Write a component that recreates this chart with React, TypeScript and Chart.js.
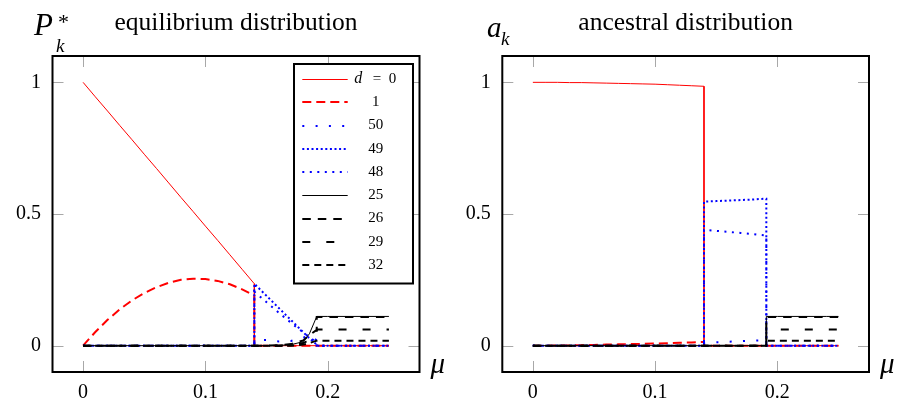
import React, { useEffect, useRef } from "react";
import { Chart, registerables } from "chart.js";

Chart.register(...registerables);

// Mutation rate grid; repeated entries carry the two vertical jumps.
const MU = [0, 0.01, 0.02, 0.03, 0.04, 0.05, 0.06, 0.07, 0.08, 0.09, 0.1, 0.11, 0.12, 0.13, 0.14, 0.14, 0.15, 0.16, 0.17, 0.18, 0.185, 0.191, 0.191, 0.2, 0.21, 0.22, 0.23, 0.24, 0.25];

const DEPTHS = ["0", "1", "50", "49", "48", "25", "26", "29", "32"];
const X_TICKS = [0, 0.1, 0.2];
const Y_TICKS = [0, 0.5, 1];

// Equilibrium distribution P*_k
const EQ_D0 = [1, 0.945, 0.891, 0.836, 0.782, 0.727, 0.673, 0.618, 0.563, 0.509, 0.454, 0.4, 0.345, 0.29, 0.235, 0, 0, 0, 0, 0, 0, 0, 0, 0, 0, 0, 0, 0, 0];
const EQ_D1 = [0, 0.052, 0.098, 0.138, 0.172, 0.2, 0.222, 0.239, 0.25, 0.254, 0.253, 0.246, 0.233, 0.214, 0.19, 0, 0, 0, 0, 0, 0, 0, 0, 0, 0, 0, 0, 0, 0];
const EQ_D50 = [0, 0, 0, 0, 0, 0, 0, 0, 0, 0, 0, 0, 0, 0, 0, 0.02, 0.022, 0.016, 0.018, 0.03, 0.04, 0.02, 0, 0, 0, 0, 0, 0, 0];
const EQ_D49 = [0, 0, 0, 0, 0, 0, 0, 0, 0, 0, 0, 0, 0, 0, 0, 0.235, 0.189, 0.143, 0.097, 0.051, 0.028, 0.004, 0, 0, 0, 0, 0, 0, 0];
const EQ_D48 = [0, 0, 0, 0, 0, 0, 0, 0, 0, 0, 0, 0, 0, 0, 0, 0.205, 0.165, 0.125, 0.087, 0.05, 0.032, 0.012, 0, 0, 0, 0, 0, 0, 0];
const EQ_D25 = [0, 0, 0, 0, 0, 0, 0, 0, 0, 0, 0, 0, 0, 0, 0, 0, 0, 0.001, 0.004, 0.015, 0.045, 0.111, 0.111, 0.111, 0.111, 0.111, 0.111, 0.111, 0.111];
const EQ_D26 = [0, 0, 0, 0, 0, 0, 0, 0, 0, 0, 0, 0, 0, 0, 0, 0, 0, 0.002, 0.006, 0.02, 0.04, 0.06, 0.109, 0.109, 0.109, 0.109, 0.109, 0.109, 0.109];
const EQ_D29 = [0, 0, 0, 0, 0, 0, 0, 0, 0, 0, 0, 0, 0, 0, 0, 0, 0, 0, 0.003, 0.01, 0.022, 0.035, 0.061, 0.061, 0.061, 0.061, 0.061, 0.061, 0.061];
const EQ_D32 = [0, 0, 0, 0, 0, 0, 0, 0, 0, 0, 0, 0, 0, 0, 0, 0, 0, 0, 0, 0.004, 0.01, 0.019, 0.019, 0.019, 0.019, 0.019, 0.019, 0.019, 0.019];

// Ancestral distribution a_k
const ANC_D0 = [1, 1, 1, 0.999, 0.999, 0.998, 0.997, 0.996, 0.995, 0.994, 0.993, 0.991, 0.989, 0.987, 0.985, 0, 0, 0, 0, 0, 0, 0, 0, 0, 0, 0, 0, 0, 0];
const ANC_D1 = [0, 0, 0.001, 0.001, 0.002, 0.003, 0.004, 0.005, 0.006, 0.007, 0.008, 0.009, 0.011, 0.012, 0.014, 0, 0, 0, 0, 0, 0, 0, 0, 0, 0, 0, 0, 0, 0];
const ANC_D50 = [0, 0, 0, 0, 0, 0, 0, 0, 0, 0, 0, 0, 0, 0, 0, 0.01, 0.013, 0.015, 0.017, 0.019, 0.02, 0.021, 0, 0, 0, 0, 0, 0, 0];
const ANC_D49 = [0, 0, 0, 0, 0, 0, 0, 0, 0, 0, 0, 0, 0, 0, 0, 0.547, 0.549, 0.551, 0.553, 0.555, 0.557, 0.558, 0, 0, 0, 0, 0, 0, 0];
const ANC_D48 = [0, 0, 0, 0, 0, 0, 0, 0, 0, 0, 0, 0, 0, 0, 0, 0.44, 0.436, 0.432, 0.428, 0.424, 0.421, 0.418, 0, 0, 0, 0, 0, 0, 0];
const ANC_D25 = [0, 0, 0, 0, 0, 0, 0, 0, 0, 0, 0, 0, 0, 0, 0, 0, 0, 0, 0, 0, 0, 0, 0.111, 0.111, 0.111, 0.111, 0.111, 0.111, 0.111];
const ANC_D26 = [0, 0, 0, 0, 0, 0, 0, 0, 0, 0, 0, 0, 0, 0, 0, 0, 0, 0, 0, 0, 0, 0, 0.109, 0.109, 0.109, 0.109, 0.109, 0.109, 0.109];
const ANC_D29 = [0, 0, 0, 0, 0, 0, 0, 0, 0, 0, 0, 0, 0, 0, 0, 0, 0, 0, 0, 0, 0, 0, 0.061, 0.061, 0.061, 0.061, 0.061, 0.061, 0.061];
const ANC_D32 = [0, 0, 0, 0, 0, 0, 0, 0, 0, 0, 0, 0, 0, 0, 0, 0, 0, 0, 0, 0, 0, 0, 0.019, 0.019, 0.019, 0.019, 0.019, 0.019, 0.019];

const EQ_SERIES = [EQ_D0, EQ_D1, EQ_D50, EQ_D49, EQ_D48, EQ_D25, EQ_D26, EQ_D29, EQ_D32];
const ANC_SERIES = [ANC_D0, ANC_D1, ANC_D50, ANC_D49, ANC_D48, ANC_D25, ANC_D26, ANC_D29, ANC_D32];

const RED = "#ff0000";
const BLUE = "#0000ff";
const BLACK = "#000000";

const STYLES = [
  { color: RED, width: 1, dash: [] as number[] },
  { color: RED, width: 2, dash: [9, 5] },
  { color: BLUE, width: 2, dash: [2, 11.3] },
  { color: BLUE, width: 2, dash: [2, 2.6] },
  { color: BLUE, width: 2, dash: [2, 5.5] },
  { color: BLACK, width: 1, dash: [] as number[] },
  { color: BLACK, width: 2, dash: [8.5, 7] },
  { color: BLACK, width: 2, dash: [8, 16] },
  { color: BLACK, width: 2, dash: [7, 5] },
];

const SERIF = "'Liberation Serif', 'Times New Roman', serif";
const TICK_LEN = 11;

type Panel = {
  title: string;
  ylab: "P" | "a";
  legend: boolean;
  width: number;
  padRight: number;
  axisWidth: number;
};

function decorPlugin(p: Panel) {
  return {
    id: "decor",
    beforeDatasetsDraw(chart: any) {
      const { ctx, chartArea: a } = chart;
      const xs = chart.scales.x;
      const ys = chart.scales.y;
      ctx.save();
      ctx.strokeStyle = "#a8a8a8";
      ctx.lineWidth = 1;
      ctx.beginPath();
      xs.ticks.forEach((t: any) => {
        const px = Math.round(xs.getPixelForValue(t.value)) + 0.5;
        ctx.moveTo(px, a.top);
        ctx.lineTo(px, a.top + TICK_LEN);
        ctx.moveTo(px, a.bottom);
        ctx.lineTo(px, a.bottom - TICK_LEN);
      });
      ys.ticks.forEach((t: any) => {
        const py = Math.round(ys.getPixelForValue(t.value)) + 0.5;
        ctx.moveTo(a.left, py);
        ctx.lineTo(a.left + TICK_LEN, py);
        ctx.moveTo(a.right, py);
        ctx.lineTo(a.right - TICK_LEN, py);
      });
      ctx.stroke();
      ctx.restore();
    },
    afterDatasetsDraw(chart: any) {
      const { ctx, chartArea: a } = chart;
      ctx.save();
      ctx.strokeStyle = "#000";
      ctx.lineWidth = 2;
      ctx.setLineDash([]);
      ctx.strokeRect(a.left, a.top, a.right - a.left, a.bottom - a.top);

      if (p.legend) {
        const bw = 119;
        const bh = 219.5;
        const bx = a.right - 6.5 - bw;
        const by = a.top + 8;
        ctx.fillStyle = "#fff";
        ctx.fillRect(bx, by, bw, bh);
        ctx.strokeRect(bx, by, bw, bh);
        chart.data.datasets.forEach((ds: any, i: number) => {
          const ly = by + 15 + i * 23.25;
          const sy = Math.round(ly) + (ds.borderWidth === 1 ? 0.5 : 0);
          ctx.save();
          ctx.strokeStyle = ds.borderColor;
          ctx.lineWidth = ds.borderWidth;
          ctx.setLineDash(ds.borderDash || []);
          ctx.beginPath();
          ctx.moveTo(bx + 8.3, sy);
          ctx.lineTo(bx + 53.7, sy);
          ctx.stroke();
          ctx.restore();
          ctx.fillStyle = "#000";
          ctx.textBaseline = "middle";
          if (i === 0) {
            ctx.font = `italic 16px ${SERIF}`;
            ctx.textAlign = "left";
            ctx.fillText("d", bx + 60.3, ly);
            ctx.font = `15px ${SERIF}`;
            ctx.textAlign = "center";
            ctx.fillText("=", bx + 83, ly);
            ctx.fillText(ds.label, bx + 98.5, ly);
          } else {
            ctx.font = `15px ${SERIF}`;
            ctx.textAlign = "center";
            ctx.fillText(ds.label, bx + 81.7, ly);
          }
        });
      }
      ctx.restore();
    },
    afterDraw(chart: any) {
      const { ctx, chartArea: a } = chart;
      ctx.save();
      ctx.fillStyle = "#000";
      ctx.textBaseline = "alphabetic";
      ctx.textAlign = "center";
      ctx.font = `25.5px ${SERIF}`;
      ctx.fillText(p.title, (a.left + a.right) / 2, 30);

      ctx.textAlign = "left";
      if (p.ylab === "P") {
        ctx.font = `italic 31px ${SERIF}`;
        ctx.fillText("P", 34, 35);
        ctx.font = `22px ${SERIF}`;
        ctx.fillText("*", 58, 29);
        ctx.font = `italic 19px ${SERIF}`;
        ctx.fillText("k", 56, 52);
      } else {
        ctx.font = `italic 29px ${SERIF}`;
        ctx.fillText("a", 37, 37);
        ctx.font = `italic 19px ${SERIF}`;
        ctx.fillText("k", 51, 45);
      }
      ctx.font = `italic 29px ${SERIF}`;
      ctx.fillText("\u03bc", a.right + 11, 373);
      ctx.restore();
    },
  };
}

function PlotPanel({ panel, series }: { panel: Panel; series: number[][] }) {
  const ref = useRef<HTMLCanvasElement | null>(null);

  useEffect(() => {
    if (!ref.current) return;
    const datasets = series.map((vals, i) => ({
      label: DEPTHS[i],
      data: MU.map((m, j) => ({ x: m, y: vals[j] })),
      borderColor: STYLES[i].color,
      backgroundColor: STYLES[i].color,
      borderWidth: STYLES[i].width,
      borderDash: STYLES[i].dash,
      borderCapStyle: "butt" as const,
      borderJoinStyle: "miter" as const,
      pointRadius: 0,
      showLine: true,
      fill: false,
      tension: 0,
      order: series.length - i,
    }));

    const chart = new Chart(ref.current, {
      type: "scatter",
      data: { datasets },
      options: {
        animation: false,
        responsive: false,
        devicePixelRatio: 1,
        layout: { padding: { top: 56, right: panel.padRight, bottom: 0, left: 0 } },
        plugins: { legend: { display: false }, tooltip: { enabled: false }, title: { display: false } },
        scales: {
          x: {
            type: "linear",
            min: -0.025,
            max: 0.275,
            afterBuildTicks: (s: any) => {
              s.ticks = X_TICKS.map((v) => ({ value: v }));
            },
            afterFit: (s: any) => {
              s.height = 28;
            },
            ticks: {
              autoSkip: false,
              maxRotation: 0,
              padding: 9,
              color: "#000",
              font: { family: SERIF, size: 20 },
              callback: (v: any) => String(v),
            },
            grid: { display: false, drawTicks: false },
            border: { display: false },
          },
          y: {
            type: "linear",
            min: -0.1,
            max: 1.1,
            afterBuildTicks: (s: any) => {
              s.ticks = Y_TICKS.map((v) => ({ value: v }));
            },
            afterFit: (s: any) => {
              s.width = panel.axisWidth;
            },
            ticks: {
              autoSkip: false,
              padding: 11.5,
              color: "#000",
              font: { family: SERIF, size: 20 },
              callback: (v: any) => String(v),
            },
            grid: { display: false, drawTicks: false },
            border: { display: false },
          },
        },
      },
      plugins: [decorPlugin(panel)],
    });
    return () => chart.destroy();
  }, [panel, series]);

  return <canvas ref={ref} width={panel.width} height={400} style={{ width: panel.width, height: 400, display: "block" }} />;
}

const LEFT_PANEL: Panel = { title: "equilibrium distribution", ylab: "P", legend: true, width: 450, padRight: 30.5, axisWidth: 52.5 };
const RIGHT_PANEL: Panel = { title: "ancestral distribution", ylab: "a", legend: false, width: 449, padRight: 30, axisWidth: 52.3 };

export default function App() {
  return (
    <div style={{ position: "absolute", left: 0, top: 0, width: 899, height: 400, background: "#fff", display: "flex" }}>
      <PlotPanel panel={LEFT_PANEL} series={EQ_SERIES} />
      <PlotPanel panel={RIGHT_PANEL} series={ANC_SERIES} />
    </div>
  );
}
